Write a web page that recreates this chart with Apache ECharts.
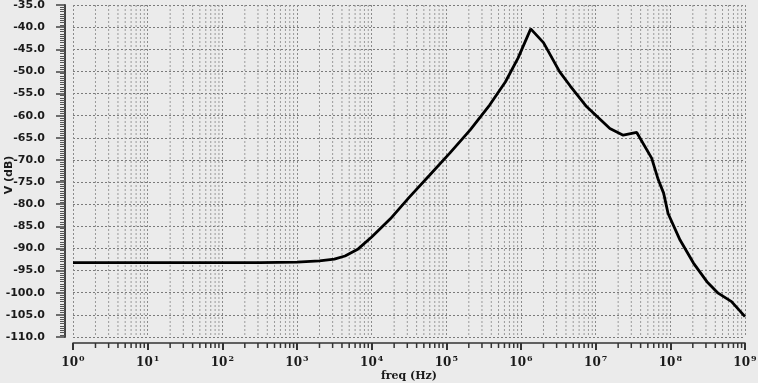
<!DOCTYPE html>
<html>
<head>
<meta charset="utf-8">
<script src="https://cdn.jsdelivr.net/npm/echarts@6/dist/echarts.min.js"></script>
<style>
html,body{margin:0;padding:0;background:#ebebeb;}
#c{width:758px;height:383px;}
</style>
</head>
<body>
<div id="c"></div>
<script>
// Frequency (Hz) and magnitude (dB)
const freqHz = [1, 10, 100, 316, 1000, 2000, 3160, 4400, 6600, 10000, 17800, 32000, 60000,
  112000, 209000, 380000, 617000, 912000, 1350000, 2000000, 3300000, 4570000, 7600000,
  15500000, 23400000, 35500000, 56200000, 69000000, 81300000, 93300000, 135000000,
  204000000, 309000000, 437000000, 661000000, 1000000000];
const magDb = [-93.2, -93.2, -93.2, -93.2, -93.1, -92.8, -92.4, -91.7, -90.1, -87.4, -83.3, -78.4, -73.4,
  -68.4, -63.2, -57.6, -52.4, -47.0, -40.4, -43.5, -50.1, -53.3, -58.0,
  -62.9, -64.4, -63.8, -69.6, -74.5, -77.5, -82.1, -88.1,
  -93.3, -97.5, -100.1, -102.0, -105.4];
const yMin = -110, yMax = -35, yStep = 5;
const xMin = 1, xMax = 1e9;
const xName = 'freq (Hz)';
const yName = 'V (dB)';

// minor log grid positions (2..9 x 10^n)
const minorFreqs = [];
for (let n = 0; n < 9; n++) for (let k = 2; k <= 9; k++) minorFreqs.push([k * Math.pow(10, n), yMin]);

const chart = echarts.init(document.getElementById('c'), null, {renderer: 'canvas'});
chart.setOption({
  backgroundColor: '#ebebeb',
  animation: false,
  grid: {left: 73, right: 13, top: 5, bottom: 46, containLabel: false, outerBoundsMode: 'none'},
  xAxis: {
    type: 'log', logBase: 10, min: xMin, max: xMax, splitNumber: 9,
    offset: 6,
    name: xName, nameLocation: 'middle', nameGap: 28, nameMoveOverlap: false,
    nameTextStyle: {fontFamily: 'DejaVu Serif', fontWeight: 'bold', fontSize: 11, color: '#1a1a1a'},
    axisLine: {show: true, lineStyle: {color: '#333', width: 1.5}},
    axisTick: {show: true, inside: false, length: 7, lineStyle: {color: '#333', width: 2}},
    minorTick: {show: false},
    axisLabel: {
      margin: 12,
      formatter: v => '{b|10}{s|' + Math.round(Math.log10(v)) + '}',
      rich: {
        b: {fontFamily: 'DejaVu Serif', fontWeight: 'bold', fontSize: 12, color: '#1a1a1a'},
        s: {fontFamily: 'DejaVu Serif', fontWeight: 'bold', fontSize: 8, color: '#1a1a1a', padding: [0, 0, 7, 1]}
      }
    },
    splitLine: {show: true, lineStyle: {color: '#8a8a8a', type: [2, 2], width: 1}}
  },
  yAxis: {
    type: 'value', min: yMin, max: yMax, interval: yStep,
    offset: 8,
    name: yName, nameLocation: 'middle', nameGap: 50, nameRotate: 90, nameMoveOverlap: false,
    nameTextStyle: {fontFamily: 'DejaVu Sans', fontWeight: 'bold', fontSize: 11, color: '#1a1a1a', padding: [0, 8, 0, 0]},
    axisLine: {show: true, lineStyle: {color: '#444', width: 2}},
    axisTick: {show: true, inside: false, length: 9, lineStyle: {color: '#444', width: 1.5}},
    minorTick: {show: true, splitNumber: 10, length: 5, lineStyle: {color: '#555', width: 1}},
    axisLabel: {
      margin: 20,
      formatter: v => v.toFixed(1),
      fontFamily: 'DejaVu Sans', fontWeight: 'bold', fontSize: 11, color: '#1a1a1a'
    },
    splitLine: {show: true, lineStyle: {color: '#7a7a7a', type: [2, 2], width: 1}}
  },
  series: [
    {
      type: 'custom',
      silent: true,
      clip: false,
      z: 1,
      data: minorFreqs,
      renderItem: function (params, api) {
        const f = api.value(0);
        const top = api.coord([f, yMax]);
        const bot = api.coord([f, yMin]);
        return {
          type: 'group',
          children: [
            {type: 'line', shape: {x1: top[0], y1: top[1], x2: bot[0], y2: bot[1]},
              style: {stroke: '#9a9a9a', lineWidth: 1, lineDash: [2, 2]}},
            {type: 'line', shape: {x1: bot[0], y1: bot[1] + 6, x2: bot[0], y2: bot[1] + 11},
              style: {stroke: '#333', lineWidth: 1.5}}
          ]
        };
      }
    },
    {
      type: 'line',
      z: 5,
      data: freqHz.map((f, i) => [f, magDb[i]]),
      showSymbol: false,
      smooth: false,
      lineStyle: {color: '#000', width: 2.8},
      clip: false
    }
  ]
});
</script>
</body>
</html>
